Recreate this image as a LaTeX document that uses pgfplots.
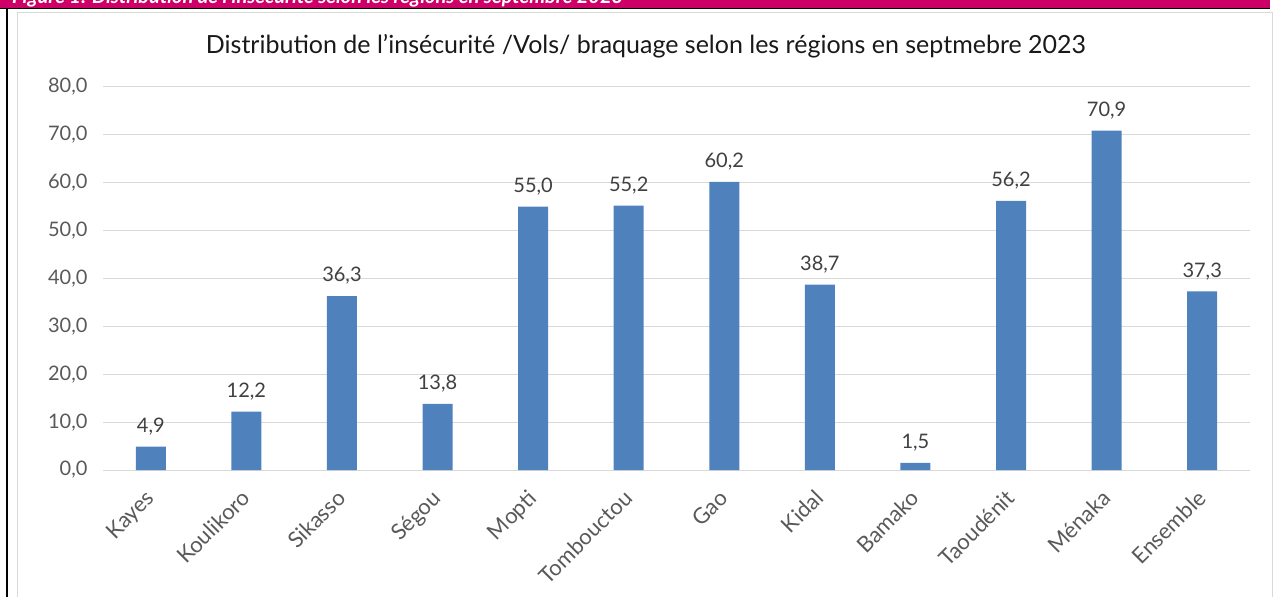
\documentclass[border=0pt]{standalone}
\usepackage{fontspec}
\setmainfont{Lato}
\usepackage{pgfplots}
\pgfplotsset{compat=1.18}
\definecolor{barblue}{HTML}{4F81BD}
\definecolor{gridc}{HTML}{D9D9D9}
\definecolor{tickc}{HTML}{595959}
\definecolor{labc}{HTML}{404040}
\definecolor{banner}{HTML}{CC0066}
\begin{document}
\begin{tikzpicture}[x=1pt,y=1pt]
\path[use as bounding box] (0pt,0pt) rectangle (1274pt,597pt);
\begin{scope}
\clip (0pt,589pt) rectangle (1270pt,597pt);
\fill[banner] (0pt,589pt) rectangle (1270pt,597pt);
\node[anchor=base west, text=white, inner sep=0, font=\bfseries\itshape\fontsize{20}{22}\selectfont] at (12pt,593pt) {Figure 1: Distribution de l'insécurité selon les régions en septembre 2023};
\end{scope}
\draw[black, line width=1.5pt] (0pt,588.5pt) -- (1270pt,588.5pt);
\draw[black, line width=2pt] (7pt,0pt) -- (7pt,589pt);
\draw[gridc, line width=1pt] (17pt,0pt) -- (17pt,584pt) -- (1272pt,584pt) -- (1272pt,0pt);
\node[anchor=base, inner sep=0, text=black!90, font=\fontsize{25}{28}\selectfont] at (646pt,543pt) {Distribution de l'insécurité /Vols/ braquage selon les régions en septmebre 2023};
\begin{axis}[
  at={(103pt,127pt)}, anchor=south west,
  scale only axis, width=1147pt, height=383pt,
  xmin=-0.5, xmax=11.5, ymin=0, ymax=80,
  ytick={0,10,...,80},
  xtick={0,...,11},
  xticklabels={Kayes,Koulikoro,Sikasso,Ségou,Mopti,Tombouctou,Gao,Kidal,Bamako,Taoudénit,Ménaka,Ensemble},
  axis lines*=left,
  y axis line style={draw=none},
  x axis line style={gridc, line width=1pt},
  major tick length=0pt,
  ymajorgrids, grid style={gridc, line width=1pt},
  yticklabel style={text=tickc, font=\fontsize{20}{22}\selectfont, xshift=-12pt},
  xticklabel style={text=tickc, font=\fontsize{22}{24}\selectfont, rotate=45, anchor=north east, xshift=-14pt, yshift=-5pt},
  yticklabel={\pgfmathprintnumber[use comma,fixed,fixed zerofill,precision=1,assume math mode=true]{\tick}},
]
\addplot[ybar, bar width=30pt, fill=barblue, draw=none,
  nodes near coords={\pgfmathprintnumber[use comma,fixed,fixed zerofill,precision=1,assume math mode=true]{\pgfplotspointmeta}},
  nodes near coords style={text=labc, font=\fontsize{20}{22}\selectfont, anchor=south, yshift=8pt}]
coordinates {(0,4.9) (1,12.2) (2,36.3) (3,13.8) (4,55.0) (5,55.2) (6,60.2) (7,38.7) (8,1.5) (9,56.2) (10,70.9) (11,37.3)};
\end{axis}
\end{tikzpicture}
\end{document}
